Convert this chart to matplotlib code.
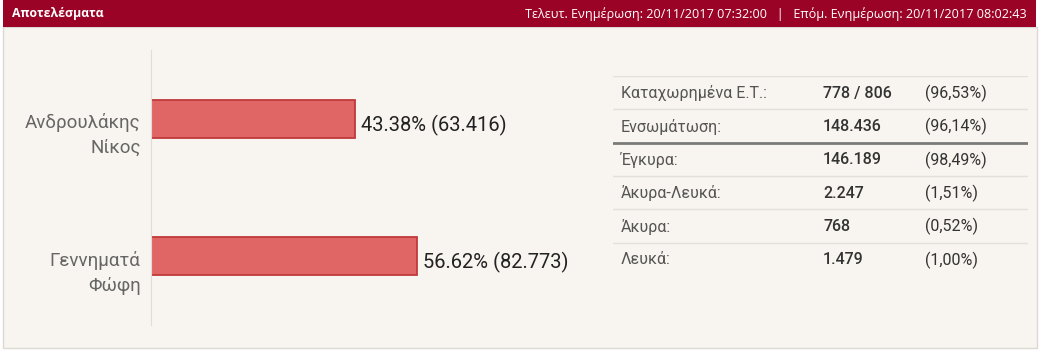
import matplotlib.pyplot as plt
from matplotlib.patches import Rectangle

W, H = 1039, 352

candidates = ["Ανδρουλάκης\nΝίκος", "Γεννηματά\nΦώφη"]
percent = [43.38, 56.62]
votes = ["63.416", "82.773"]

row_labels = ["Καταχωρημένα Ε.Τ.:", "Ενσωμάτωση:", "Έγκυρα:", "Άκυρα-Λευκά:", "Άκυρα:", "Λευκά:"]
row_values = ["778 / 806", "148.436", "146.189", "2.247", "768", "1.479"]
row_pcts = ["(96,53%)", "(96,14%)", "(98,49%)", "(1,51%)", "(0,52%)", "(1,00%)"]

title = "Αποτελέσματα"
update_text = "Τελευτ. Ενημέρωση: 20/11/2017 07:32:00   |   Επόμ. Ενημέρωση: 20/11/2017 08:02:43"

plt.rcParams['font.family'] = ['Roboto', 'DejaVu Sans']


def px_axes(fig, x, y, w, h):
    return fig.add_axes([x / W, 1 - (y + h) / H, w / W, h / H])


fig = plt.figure(figsize=(W / 100, H / 100), dpi=100, facecolor='white')

# background panel + header in pixel coordinates
bg = px_axes(fig, 0, 0, W, H)
bg.set_xlim(0, W)
bg.set_ylim(H, 0)
bg.axis('off')
bg.add_patch(Rectangle((2.5, 27), 1034, 321, facecolor='#f8f4ef', edgecolor='#dcd9d5', lw=1))
bg.add_patch(Rectangle((3, 0), 1033, 27, facecolor='#9a0325', edgecolor='none'))
bg.text(12, 14, title, color='white', fontsize=8.8, fontweight='bold',
        family=['Open Sans', 'DejaVu Sans'], va='center', ha='left')
bg.text(1027, 14, update_text, color='white', fontsize=9.1,
        family=['Open Sans', 'DejaVu Sans'], va='center', ha='right')

# bar chart
ax = px_axes(fig, 151, 50, 376, 275)
ax.set_facecolor('none')
ypos = list(range(len(candidates)))
ax.barh(ypos, percent, height=0.276, color='#e06666', edgecolor='#c0393b', linewidth=1.3)
ax.set_xlim(0, 80)
ax.set_ylim(len(candidates) - 0.5, -0.5)
for s in ['top', 'right', 'bottom']:
    ax.spines[s].set_visible(False)
ax.spines['left'].set_color('#e0dcd6')
ax.set_xticks([])
ax.set_yticks([])
for i, (name, p, v) in enumerate(zip(candidates, percent, votes)):
    ax.annotate(f"{p:.2f}% ({v})", (p, i), xytext=(4.5, -4.5), textcoords='offset points',
                va='center', ha='left', fontsize=14.5, color='#222222', annotation_clip=False)
    ax.annotate(name, (0, i), xytext=(-7.5, 4), textcoords='offset points',
                va='top', ha='right', fontsize=13.5, color='#666666', linespacing=1.5,
                annotation_clip=False)

# summary table
tb = px_axes(fig, 613, 76, 415, 200)
tb.set_xlim(0, 415)
tb.set_ylim(len(row_labels), 0)
tb.axis('off')
for r, (lab, val, pc) in enumerate(zip(row_labels, row_values, row_pcts)):
    if r == 2:
        tb.axhline(r, color='#7a7a7a', lw=2)
    else:
        tb.axhline(r, color='#e3dfda', lw=1)
    tb.text(8, r + 0.52, lab, va='center', ha='left', fontsize=11.5, color='#555555')
    tb.text(210, r + 0.52, val, va='center', ha='left', fontsize=11.5, color='#333333',
            fontweight='medium')
    tb.text(312, r + 0.52, pc, va='center', ha='left', fontsize=11.5, color='#333333')

fig.savefig('out.png', dpi=100, facecolor=fig.get_facecolor())
